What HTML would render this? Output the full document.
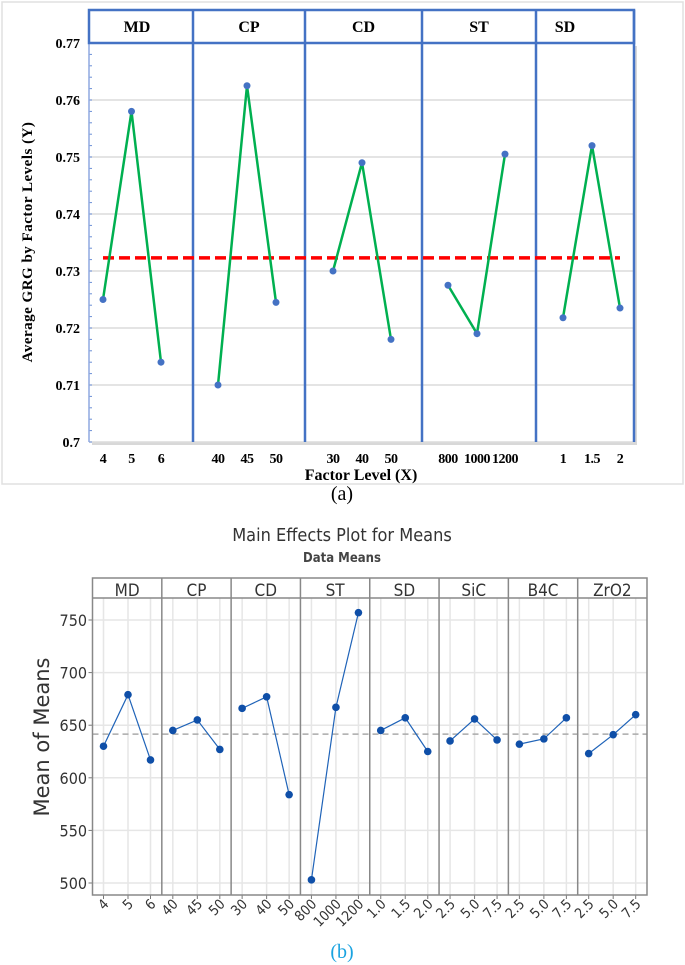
<!DOCTYPE html>
<html><head><meta charset="utf-8"><style>
html,body{margin:0;padding:0;background:#fff;}
svg{display:block;}
</style></head><body>
<svg id="chart" width="685" height="965" xmlns="http://www.w3.org/2000/svg">
<rect x="2" y="2" width="681" height="482" fill="none" stroke="#e0e0e0" stroke-width="1.5"/>
<g id="ga"></g>
<text x="342" y="500" text-anchor="middle" font-family="Liberation Serif, serif" font-size="20" fill="#000">(a)</text>
<g id="gb"></g>
<text x="342" y="958" text-anchor="middle" font-family="Liberation Serif, serif" font-size="20" fill="#1aa3e0">(b)</text>
</svg>
<script>
// ---- Chart (a) data ----
const aFactors = ["MD","CP","CD","ST","SD"];
const aLevels = [["4","5","6"],["40","45","50"],["30","40","50"],["800","1000","1200"],["1","1.5","2"]];
const aValues = [[0.725,0.758,0.714],[0.710,0.7625,0.7245],[0.730,0.749,0.718],[0.7275,0.719,0.7505],[0.7218,0.752,0.7235]];
const aMean = 0.7323;
const aTicks = [0.7,0.71,0.72,0.73,0.74,0.75,0.76,0.77];
// ---- Chart (b) data ----
const bFactors = ["MD","CP","CD","ST","SD","SiC","B4C","ZrO2"];
const bLevels = [["4","5","6"],["40","45","50"],["30","40","50"],["800","1000","1200"],["1.0","1.5","2.0"],["2.5","5.0","7.5"],["2.5","5.0","7.5"],["2.5","5.0","7.5"]];
const bValues = [[630,679,617],[645,655,627],[666,677,584],[503,667,757],[645,657,625],[635,656,636],[632,637,657],[623,641,660]];
const bMean = 641.5;
const bTicks = [500,550,600,650,700,750];

const NS="http://www.w3.org/2000/svg";
function mk(parent,tag,attrs,text){const e=document.createElementNS(NS,tag);for(const k in attrs)e.setAttribute(k,attrs[k]);if(text!==undefined)e.textContent=text;parent.appendChild(e);return e;}

// ===== Chart A =====
(function(){
const g=document.getElementById('ga');
const L=89,R=634,T=43,B=442,HT=10;
const divs=[89,193,305,422,536,634];
const y=v=>B-(v-0.7)/0.07*(B-T);
const px=[[103,131.5,161],[218,247,276],[333,362,391],[448,477,505],[563,592,620]];
const x=(i,j)=>px[i][j];
const sh=mk(g,'rect',{x:L+3,y:T+3,width:R-L,height:B-T,fill:'#d8d8d8'});


mk(g,'rect',{x:L,y:T,width:R-L,height:B-T,fill:'#fff'});
aTicks.forEach(t=>{
 const ln=mk(g,'line',{x1:L,x2:R,y1:y(t),y2:y(t),stroke:'#dcdcdc','stroke-width':1.5});
 
 
 const tx=mk(g,'text',{x:80,y:y(t)+5,'text-anchor':'end','font-family':'Liberation Serif, serif','font-size':14,'font-weight':'bold'},String(t));
 
 
});
for(let k=0;k<=35;k++){const yy=B-k*(B-T)/35;mk(g,'line',{x1:L,x2:L+3,y1:yy,y2:yy,stroke:'#6b8fd6','stroke-width':1});}
mk(g,'line',{x1:L,x2:L,y1:T,y2:B,stroke:'#8fa9e0','stroke-width':1.5});
const hd=mk(g,'rect',{x:L,y:HT,width:R-L,height:T-HT,fill:'#fff',stroke:'#4472c4','stroke-width':2.5});


divs.forEach((d,i)=>{
 if(i>0&&i<divs.length-1){const dl=mk(g,'line',{x1:d,x2:d,y1:HT,y2:B,stroke:'#4472c4','stroke-width':2.5});
 
 }
});
mk(g,'line',{x1:R,x2:R,y1:HT,y2:B,stroke:'#4472c4','stroke-width':2.5});
aFactors.forEach((f,i)=>{
 const cx=i===0?137:(divs[i]+divs[i+1])/2 - (i===4?20:0);
 const t=mk(g,'text',{x:cx,y:32,'text-anchor':'middle','font-family':'Liberation Serif, serif','font-size':16,'font-weight':'bold'},f);
 
 
});
const ml=mk(g,'line',{x1:103,x2:620,y1:y(aMean),y2:y(aMean),stroke:'#ff0000','stroke-width':3.5,'stroke-dasharray':'11,5'});


aValues.forEach((vals,i)=>{
 const pts=vals.map((v,j)=>x(i,j)+','+y(v)).join(' ');
 const pl=mk(g,'polyline',{points:pts,fill:'none',stroke:'#00b050','stroke-width':2.5});
 
 
 vals.forEach((v,j)=>{
  const c=mk(g,'circle',{cx:x(i,j),cy:y(v),r:3.5,fill:'#4472c4'});
  
  
  const tl=mk(g,'text',{x:x(i,j),y:463,'text-anchor':'middle','font-family':'Liberation Serif, serif','font-size':14,'font-weight':'bold','letter-spacing':'-0.5'},aLevels[i][j]);
  
  
 });
});
const xt=mk(g,'text',{x:361,y:480,'text-anchor':'middle','font-family':'Liberation Serif, serif','font-size':16,'font-weight':'bold'},'Factor Level (X)');


const yt=mk(g,'text',{x:0,y:0,transform:'translate(32,242) rotate(-90)','text-anchor':'middle','font-family':'Liberation Serif, serif','font-size':15,'font-weight':'bold','letter-spacing':'0.5'},'Average GRG by Factor Levels (Y)');


})();

// ===== Chart B =====
(function(){
const g=document.getElementById('gb');
const L=92.5,R=647,HT=578,T=598,B=895;
const pw=(R-L)/bFactors.length;
const y=v=>883-(v-500)/250*(883-620);
const offs=[11,35.5,58];
const x=(i,j)=>L+i*pw+offs[j];
const t1=mk(g,'text',{x:342,y:541,'text-anchor':'middle','font-family':'DejaVu Sans Condensed, DejaVu Sans, sans-serif','font-size':18,fill:'#333'},'Main Effects Plot for Means');


const t2=mk(g,'text',{x:342,y:562,'text-anchor':'middle','font-family':'DejaVu Sans Condensed, DejaVu Sans, sans-serif','font-size':13,'font-weight':'bold',fill:'#444'},'Data Means');


bTicks.forEach(t=>{
 const ln=mk(g,'line',{x1:L,x2:R,y1:y(t),y2:y(t),stroke:'#e6e6e6','stroke-width':1.5});
 
 
 mk(g,'line',{x1:L-4,x2:L,y1:y(t),y2:y(t),stroke:'#777'});
 const tx=mk(g,'text',{x:87,y:y(t)+6,'text-anchor':'end','font-family':'DejaVu Sans Condensed, DejaVu Sans, sans-serif','font-size':16,fill:'#333'},String(t));
 
 
});
bFactors.forEach((f,i)=>{
 for(let j=0;j<3;j++){mk(g,'line',{x1:x(i,j),x2:x(i,j),y1:T,y2:B,stroke:'#e6e6e6','stroke-width':1.5});mk(g,'line',{x1:x(i,j),x2:x(i,j),y1:B,y2:B+4,stroke:'#777'});}
});
const ml=mk(g,'line',{x1:L,x2:R,y1:y(bMean),y2:y(bMean),stroke:'#aaa','stroke-width':1.5,'stroke-dasharray':'6,4'});


mk(g,'rect',{x:L,y:HT,width:R-L,height:B-HT,fill:'none',stroke:'#888','stroke-width':1.5});
mk(g,'line',{x1:L,x2:R,y1:T,y2:T,stroke:'#888','stroke-width':1.5});
bFactors.forEach((f,i)=>{
 if(i>0){const d=mk(g,'line',{x1:L+i*pw,x2:L+i*pw,y1:HT,y2:B,stroke:'#888','stroke-width':1.5});
 
 }
 const hl=mk(g,'text',{x:L+i*pw+pw/2,y:596,'text-anchor':'middle','font-family':'DejaVu Sans Condensed, DejaVu Sans, sans-serif','font-size':17,fill:'#333'},f);
 
 
 const pts=bValues[i].map((v,j)=>x(i,j)+','+y(v)).join(' ');
 const pl=mk(g,'polyline',{points:pts,fill:'none',stroke:'#1f63b8','stroke-width':1.2});
 
 
 bValues[i].forEach((v,j)=>{
  const c=mk(g,'circle',{cx:x(i,j),cy:y(v),r:3.8,fill:'#0f4fa8'});
  
  
  const tl=mk(g,'text',{x:0,y:0,transform:'translate('+(x(i,j)+6)+',905) rotate(-45)','text-anchor':'end','font-family':'DejaVu Sans Condensed, DejaVu Sans, sans-serif','font-size':14,fill:'#333'},bLevels[i][j]);
  
  
 });
});
const yt=mk(g,'text',{x:0,y:0,transform:'translate(49,737) rotate(-90)','text-anchor':'middle','font-family':'DejaVu Sans, sans-serif','font-size':21,fill:'#333'},'Mean of Means');


})();
</script>
</body></html>
